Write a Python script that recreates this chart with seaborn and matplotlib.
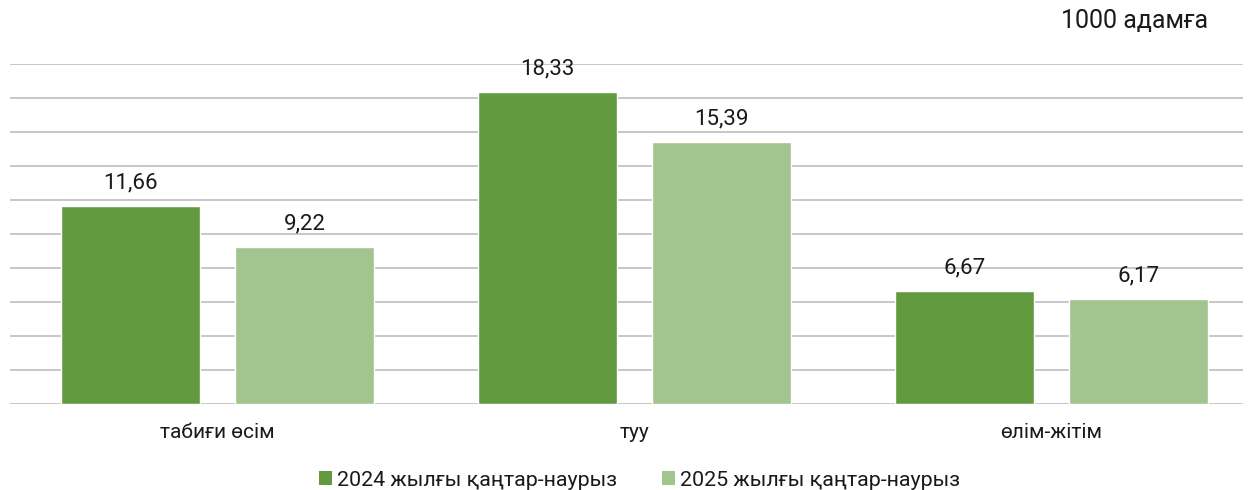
import matplotlib
matplotlib.use("Agg")
import matplotlib.pyplot as plt
import seaborn as sns
import pandas as pd
from matplotlib.patches import Patch

categories = ["табиғи өсім", "туу", "өлім-жітім"]
series_names = ["2024 жылғы қаңтар-наурыз", "2025 жылғы қаңтар-наурыз"]
values_2024 = [11.66, 18.33, 6.67]
values_2025 = [9.22, 15.39, 6.17]
unit_label = "1000 адамға"

colors = ["#629B3F", "#A2C48F"]

sns.set_theme(style="white")
plt.rcParams["font.family"] = ["Roboto", "DejaVu Sans"]

df = pd.DataFrame({
    "cat": categories * 2,
    "series": [series_names[0]] * 3 + [series_names[1]] * 3,
    "val": values_2024 + values_2025,
})

fig = plt.figure(figsize=(12.52, 4.90), dpi=100)
ax = fig.add_axes([10 / 1252, 1 - 404 / 490, 1233 / 1252, 340 / 490])

sns.barplot(data=df, x="cat", y="val", hue="series", palette=colors,
            width=0.834, gap=0.2, ax=ax, legend=False, saturation=1)

ax.set_ylim(0, 20)
ax.set_xlim(-0.4976, 2.4592)
ax.set_yticks(range(0, 21, 2))
ax.yaxis.grid(True, color="#BDBDBD", linewidth=1.2)
ax.set_axisbelow(True)
ax.tick_params(axis="y", left=False, labelleft=False)
ax.tick_params(axis="x", bottom=False, pad=8, labelsize=15, labelcolor="#1a1a1a")
ax.set_xlabel("")
ax.set_ylabel("")
for s in ["top", "right", "left", "bottom"]:
    ax.spines[s].set_visible(False)

for cont in ax.containers:
    ax.bar_label(cont, labels=[f"{v:.2f}".replace(".", ",") for v in cont.datavalues],
                 padding=9, fontsize=16, color="#1a1a1a")

fig.text(1208 / 1252, 1 - 21 / 490, unit_label, ha="right", va="center",
         fontsize=18, color="#1a1a1a")

handles = [Patch(facecolor=c, edgecolor="none") for c in colors]
fig.legend(handles, series_names, loc="center", bbox_to_anchor=(0.511, 1 - 480 / 490),
           ncol=2, frameon=False, fontsize=15.4, handlelength=0.6, handleheight=0.6,
           handletextpad=0.25, columnspacing=2.1, labelcolor="#1a1a1a")

fig.savefig("out.png", dpi=100)
